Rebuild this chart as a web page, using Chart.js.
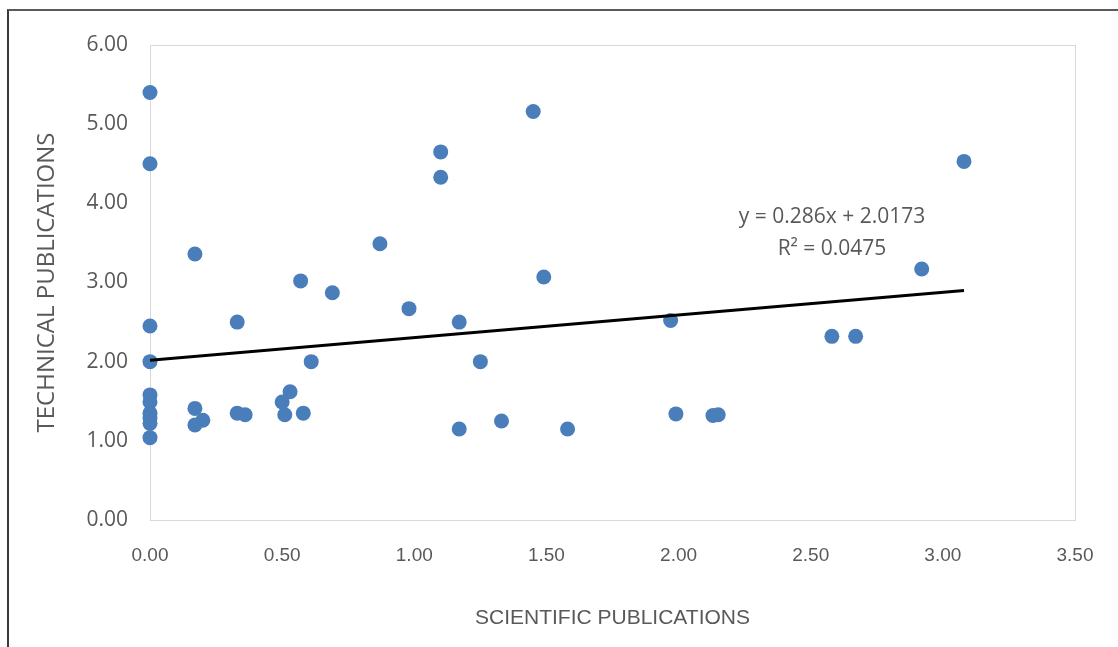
<!DOCTYPE html>
<html>
<head>
<meta charset="utf-8">
<script src="https://cdn.jsdelivr.net/npm/chart.js@4"></script>
<style>
    html,body{margin:0;padding:0;background:#fff;}
    #wrap{position:relative;width:1118px;height:647px;overflow:hidden;}
    #frame{position:absolute;left:7px;top:9px;width:1200px;height:700px;border-left:2px solid #3a3a3a;border-top:2px solid #5a5a5a;}
    canvas{position:absolute;left:0;top:0;}
</style>
</head>
<body>
<div id="wrap">
    <div id="frame"></div>
    <canvas id="grafic" width="1118" height="647"></canvas>
</div>
<script>
/* ============================================================
   DADES
============================================================ */

const scientific=[
    0.00,0.00,0.00,0.00,0.00,0.00,0.00,0.00,0.00,0.00,
    0.17,0.17,0.17,0.20,0.33,0.33,0.36,0.50,0.53,0.51,
    0.57,0.58,0.61,0.69,0.87,0.98,1.10,1.10,1.17,1.17,
    1.25,1.33,1.45,1.49,1.58,1.97,1.99,2.13,2.15,2.58,
    2.67,2.92,3.08
];

const technical=[
    5.40,4.50,2.45,2.00,1.58,1.49,1.35,1.29,1.22,1.04,
    3.36,1.41,1.20,1.26,2.50,1.35,1.33,1.49,1.62,1.33,
    3.02,1.35,2.00,2.87,3.49,2.67,4.65,4.33,2.50,1.15,
    2.00,1.25,5.16,3.07,1.15,2.52,1.34,1.32,1.33,2.32,
    2.32,3.17,4.53
];

// linia de tendència que mostra el gràfic
const slope=0.286;
const intercept=2.0173;
const equationLines=["y = 0.286x + 2.0173","R² = 0.0475"];

const xTicks=[0,0.5,1,1.5,2,2.5,3,3.5];
const yTicks=[0,1,2,3,4,5,6];


/* ============================================================
   GRÀFIC
============================================================ */

const punts=scientific.map((x,i)=>({x:x,y:technical[i]}));

const xMax=Math.max(...scientific);
const tendencia=[
    {x:0,y:intercept},
    {x:xMax,y:slope*xMax+intercept}
];

const marcPlot={
    id:"marcPlot",
    beforeDatasetsDraw(chart){
        const a=chart.chartArea;
        const ctx=chart.ctx;
        ctx.save();
        ctx.strokeStyle="#d9d9d9";
        ctx.lineWidth=1;
        ctx.strokeRect(a.left+0.5,a.top+0.5,a.right-a.left,a.bottom-a.top);
        ctx.restore();
    }
};

const equacio={
    id:"equacio",
    afterDatasetsDraw(chart){
        const a=chart.chartArea;
        const ctx=chart.ctx;
        ctx.save();
        ctx.font="21px 'Open Sans', 'Noto Sans', sans-serif";
        ctx.fillStyle="#595959";
        ctx.textAlign="center";
        ctx.textBaseline="middle";
        const cx=a.left+682;
        ctx.fillText(equationLines[0],cx,217);
        ctx.fillText(equationLines[1],cx,249);
        ctx.restore();
    }
};

new Chart(document.getElementById("grafic"),{

    type:"scatter",

    data:{
        datasets:[
            {
                label:"Publications",
                data:punts,
                backgroundColor:"#4a7ebb",
                borderColor:"#4a7ebb",
                pointRadius:7.5,
                pointHoverRadius:7.5,
                borderWidth:0,
                clip:false,
                order:2
            },
            {
                type:"line",
                label:"Tendència",
                data:tendencia,
                borderColor:"#000",
                borderWidth:3,
                pointRadius:0,
                fill:false,
                tension:0,
                order:1
            }
        ]
    },

    options:{
        responsive:false,
        animation:false,
        layout:{
            padding:{left:0,right:43,top:45,bottom:0}
        },
        plugins:{
            legend:{display:false},
            tooltip:{enabled:false}
        },
        scales:{
            x:{
                type:"linear",
                min:0,
                max:3.5,
                afterBuildTicks(scale){
                    scale.ticks=xTicks.map(v=>({value:v}));
                },
                afterFit(scale){
                    scale.height=127;
                },
                grid:{display:false,drawTicks:false},
                border:{display:false},
                ticks:{
                    padding:24,
                    color:"#595959",
                    font:{family:"'Liberation Sans Narrow', 'Liberation Sans', sans-serif",size:19},
                    callback:v=>Number(v).toFixed(2)
                },
                title:{
                    display:true,
                    text:"SCIENTIFIC PUBLICATIONS",
                    color:"#595959",
                    font:{family:"'Liberation Sans Narrow', 'Liberation Sans', sans-serif",size:21},
                    padding:{top:0,bottom:16}
                }
            },
            y:{
                type:"linear",
                min:0,
                max:6,
                afterBuildTicks(scale){
                    scale.ticks=yTicks.map(v=>({value:v}));
                },
                afterFit(scale){
                    scale.width=150;
                },
                grid:{display:false,drawTicks:false},
                border:{display:false},
                ticks:{
                    padding:22,
                    color:"#595959",
                    font:{family:"'Open Sans', 'Noto Sans', sans-serif",size:21},
                    callback:v=>Number(v).toFixed(2)
                },
                title:{
                    display:true,
                    text:"TECHNICAL PUBLICATIONS",
                    color:"#595959",
                    font:{family:"'Open Sans', 'Noto Sans', sans-serif",size:24},
                    padding:{top:33,bottom:0}
                }
            }
        }
    },

    plugins:[marcPlot,equacio]

});
</script>
</body>
</html>
